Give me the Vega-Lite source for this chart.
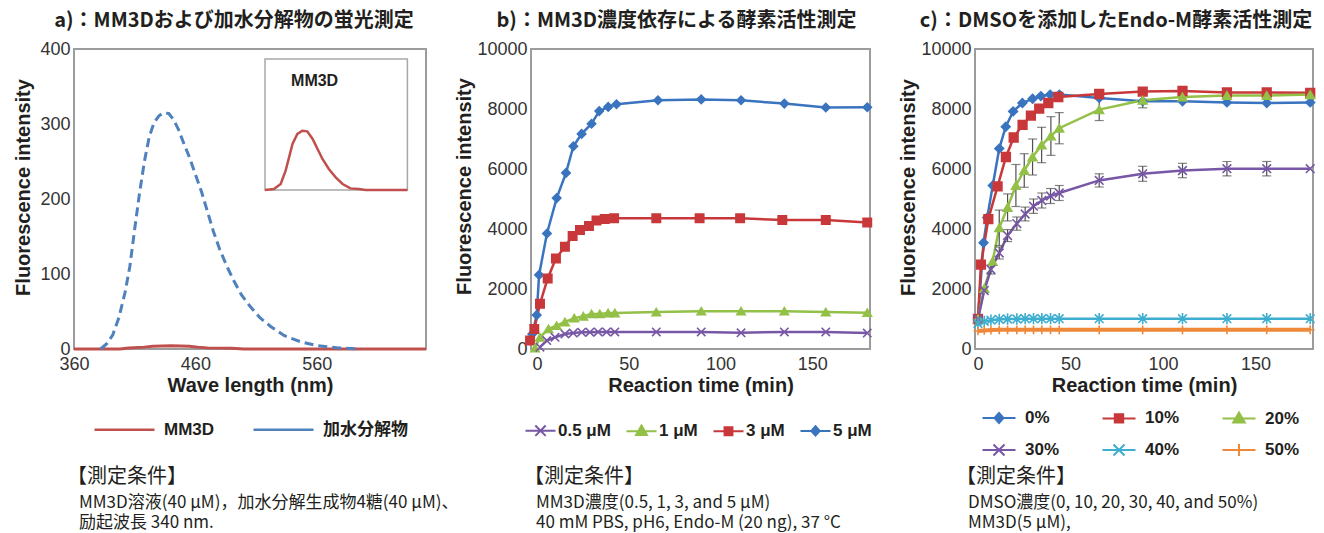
{
"$schema": "https://vega.github.io/schema/vega-lite/v6.json",
"padding": {"left": 12, "top": 10, "right": 2, "bottom": 0},
"datasets": {
"spectra": [
{"sample":"MM3D","wavelength":360,"intensity":0},{"sample":"MM3D","wavelength":398,"intensity":0},{"sample":"MM3D","wavelength":405,"intensity":1.3},{"sample":"MM3D","wavelength":418,"intensity":2.5},{"sample":"MM3D","wavelength":425,"intensity":3.8},{"sample":"MM3D","wavelength":440,"intensity":4.2},{"sample":"MM3D","wavelength":455,"intensity":3.8},{"sample":"MM3D","wavelength":462,"intensity":2.5},{"sample":"MM3D","wavelength":470,"intensity":1.5},{"sample":"MM3D","wavelength":490,"intensity":1},{"sample":"MM3D","wavelength":500,"intensity":0},{"sample":"MM3D","wavelength":650,"intensity":0},
{"sample":"加水分解物","wavelength":382,"intensity":0},{"sample":"加水分解物","wavelength":387,"intensity":7},{"sample":"加水分解物","wavelength":392,"intensity":19},{"sample":"加水分解物","wavelength":397,"intensity":42},{"sample":"加水分解物","wavelength":402,"intensity":75},{"sample":"加水分解物","wavelength":406,"intensity":110},{"sample":"加水分解物","wavelength":410,"intensity":160},{"sample":"加水分解物","wavelength":414,"intensity":208},{"sample":"加水分解物","wavelength":418,"intensity":250},{"sample":"加水分解物","wavelength":422,"intensity":283},{"sample":"加水分解物","wavelength":426,"intensity":302},{"sample":"加水分解物","wavelength":430,"intensity":311},{"sample":"加水分解物","wavelength":434,"intensity":315},{"sample":"加水分解物","wavelength":438,"intensity":314},{"sample":"加水分解物","wavelength":442,"intensity":306},{"sample":"加水分解物","wavelength":446,"intensity":293},{"sample":"加水分解物","wavelength":450,"intensity":276},{"sample":"加水分解物","wavelength":455,"intensity":256},{"sample":"加水分解物","wavelength":460,"intensity":233},{"sample":"加水分解物","wavelength":465,"intensity":210},{"sample":"加水分解物","wavelength":470,"intensity":183},{"sample":"加水分解物","wavelength":475,"intensity":156},{"sample":"加水分解物","wavelength":480,"intensity":133},{"sample":"加水分解物","wavelength":486,"intensity":110},{"sample":"加水分解物","wavelength":492,"intensity":90},{"sample":"加水分解物","wavelength":498,"intensity":72},{"sample":"加水分解物","wavelength":505,"intensity":57},{"sample":"加水分解物","wavelength":513,"intensity":42},{"sample":"加水分解物","wavelength":522,"intensity":30},{"sample":"加水分解物","wavelength":533,"intensity":18},{"sample":"加水分解物","wavelength":546,"intensity":10},{"sample":"加水分解物","wavelength":560,"intensity":4.5},{"sample":"加水分解物","wavelength":578,"intensity":1.5},{"sample":"加水分解物","wavelength":596,"intensity":0}
],
"inset_curve": [
{"wavelength":360,"intensity":0},{"wavelength":378,"intensity":0.06},{"wavelength":392,"intensity":0.37},{"wavelength":402,"intensity":1.19},{"wavelength":409,"intensity":2.01},{"wavelength":416,"intensity":2.83},{"wavelength":426,"intensity":3.45},{"wavelength":436,"intensity":3.65},{"wavelength":446,"intensity":3.61},{"wavelength":457,"intensity":3.14},{"wavelength":467,"intensity":2.52},{"wavelength":477,"intensity":1.91},{"wavelength":490,"intensity":1.29},{"wavelength":504,"intensity":0.78},{"wavelength":518,"intensity":0.37},{"wavelength":534,"intensity":0.1},{"wavelength":551,"intensity":0.06},{"wavelength":565,"intensity":0},{"wavelength":650,"intensity":0}
],
"inset_frame": [{"wl_min":360,"wl_max":650,"i_min":0,"i_max":8.06}],
"inset_label": [{"label":"MM3D","wavelength":461,"intensity":6.7}],
"conc": [
{"conc":"5 μM","t":-2.6,"v":500},{"conc":"5 μM","t":-0.2,"v":1130},{"conc":"5 μM","t":1.1,"v":2470},{"conc":"5 μM","t":5.4,"v":3850},{"conc":"5 μM","t":10.7,"v":5030},{"conc":"5 μM","t":15.8,"v":5870},{"conc":"5 μM","t":19.8,"v":6760},{"conc":"5 μM","t":24.3,"v":7170},{"conc":"5 μM","t":29.7,"v":7510},{"conc":"5 μM","t":33.9,"v":7930},{"conc":"5 μM","t":38.8,"v":8070},{"conc":"5 μM","t":43.3,"v":8160},{"conc":"5 μM","t":65.9,"v":8290},{"conc":"5 μM","t":89.5,"v":8320},{"conc":"5 μM","t":111.2,"v":8290},{"conc":"5 μM","t":134.8,"v":8180},{"conc":"5 μM","t":157.4,"v":8050},{"conc":"5 μM","t":180,"v":8060},
{"conc":"3 μM","t":-3.8,"v":280},{"conc":"3 μM","t":-1.5,"v":670},{"conc":"3 μM","t":1.6,"v":1510},{"conc":"3 μM","t":5.8,"v":2350},{"conc":"3 μM","t":10.3,"v":3020},{"conc":"3 μM","t":15.2,"v":3410},{"conc":"3 μM","t":19.4,"v":3770},{"conc":"3 μM","t":23.4,"v":3970},{"conc":"3 μM","t":28.3,"v":4100},{"conc":"3 μM","t":32.4,"v":4280},{"conc":"3 μM","t":36.9,"v":4330},{"conc":"3 μM","t":42,"v":4360},{"conc":"3 μM","t":65,"v":4360},{"conc":"3 μM","t":88.6,"v":4360},{"conc":"3 μM","t":110.7,"v":4360},{"conc":"3 μM","t":133.7,"v":4300},{"conc":"3 μM","t":157.4,"v":4300},{"conc":"3 μM","t":180,"v":4220},
{"conc":"1 μM","t":-1.1,"v":30},{"conc":"1 μM","t":1.6,"v":390},{"conc":"1 μM","t":6.2,"v":670},{"conc":"1 μM","t":10.7,"v":780},{"conc":"1 μM","t":15.2,"v":900},{"conc":"1 μM","t":20.3,"v":1030},{"conc":"1 μM","t":25.2,"v":1090},{"conc":"1 μM","t":29.7,"v":1170},{"conc":"1 μM","t":34.2,"v":1170},{"conc":"1 μM","t":38.7,"v":1200},{"conc":"1 μM","t":42.4,"v":1200},{"conc":"1 μM","t":65,"v":1230},{"conc":"1 μM","t":89.5,"v":1260},{"conc":"1 μM","t":111.2,"v":1260},{"conc":"1 μM","t":134.8,"v":1260},{"conc":"1 μM","t":157.4,"v":1230},{"conc":"1 μM","t":180,"v":1210},
{"conc":"0.5 μM","t":1.6,"v":60},{"conc":"0.5 μM","t":5.3,"v":280},{"conc":"0.5 μM","t":9.8,"v":390},{"conc":"0.5 μM","t":15.2,"v":500},{"conc":"0.5 μM","t":19.7,"v":530},{"conc":"0.5 μM","t":24.3,"v":560},{"conc":"0.5 μM","t":28.8,"v":560},{"conc":"0.5 μM","t":33.3,"v":570},{"conc":"0.5 μM","t":37.9,"v":570},{"conc":"0.5 μM","t":42.4,"v":570},{"conc":"0.5 μM","t":65,"v":570},{"conc":"0.5 μM","t":89.5,"v":570},{"conc":"0.5 μM","t":111.2,"v":540},{"conc":"0.5 μM","t":134.8,"v":570},{"conc":"0.5 μM","t":157.4,"v":570},{"conc":"0.5 μM","t":180,"v":530}
],
"dmso": [
{"dmso":"0%","t":0,"v":1000},{"dmso":"0%","t":3,"v":3540},{"dmso":"0%","t":5,"v":4380},{"dmso":"0%","t":8,"v":5450},{"dmso":"0%","t":11.5,"v":6680},{"dmso":"0%","t":15,"v":7410},{"dmso":"0%","t":19,"v":7920},{"dmso":"0%","t":24,"v":8200},{"dmso":"0%","t":29.5,"v":8340},{"dmso":"0%","t":34,"v":8430},{"dmso":"0%","t":39,"v":8480},{"dmso":"0%","t":44,"v":8480},{"dmso":"0%","t":65.5,"v":8370},{"dmso":"0%","t":89,"v":8260},{"dmso":"0%","t":110.5,"v":8260},{"dmso":"0%","t":134.5,"v":8220},{"dmso":"0%","t":156,"v":8200},{"dmso":"0%","t":179.5,"v":8220},
{"dmso":"10%","t":0,"v":1000},{"dmso":"10%","t":1.6,"v":2810},{"dmso":"10%","t":5.6,"v":4330},{"dmso":"10%","t":10.6,"v":5420},{"dmso":"10%","t":15.1,"v":6400},{"dmso":"10%","t":19.3,"v":7050},{"dmso":"10%","t":24.1,"v":7470},{"dmso":"10%","t":28.6,"v":7780},{"dmso":"10%","t":33.1,"v":8010},{"dmso":"10%","t":38,"v":8200},{"dmso":"10%","t":43.4,"v":8400},{"dmso":"10%","t":65.5,"v":8500},{"dmso":"10%","t":89,"v":8580},{"dmso":"10%","t":110.5,"v":8600},{"dmso":"10%","t":134.5,"v":8550},{"dmso":"10%","t":156,"v":8550},{"dmso":"10%","t":179.5,"v":8540},
{"dmso":"20%","t":0,"v":1000},{"dmso":"20%","t":3.4,"v":2020},{"dmso":"20%","t":7.9,"v":2920},{"dmso":"20%","t":11.5,"v":4040},{"dmso":"20%","t":16,"v":4720},{"dmso":"20%","t":20.5,"v":5450},{"dmso":"20%","t":25,"v":5950},{"dmso":"20%","t":29.5,"v":6400},{"dmso":"20%","t":34.4,"v":6800},{"dmso":"20%","t":39.4,"v":7100},{"dmso":"20%","t":43.9,"v":7360},{"dmso":"20%","t":65.5,"v":7980},{"dmso":"20%","t":89,"v":8290},{"dmso":"20%","t":110.5,"v":8400},{"dmso":"20%","t":134.5,"v":8450},{"dmso":"20%","t":156,"v":8450},{"dmso":"20%","t":179.5,"v":8480},
{"dmso":"30%","t":0,"v":1000},{"dmso":"30%","t":3.4,"v":1950},{"dmso":"30%","t":7,"v":2650},{"dmso":"30%","t":11.5,"v":3200},{"dmso":"30%","t":16,"v":3780},{"dmso":"30%","t":21,"v":4180},{"dmso":"30%","t":25.5,"v":4500},{"dmso":"30%","t":30,"v":4760},{"dmso":"30%","t":34.5,"v":4950},{"dmso":"30%","t":39.2,"v":5100},{"dmso":"30%","t":43.9,"v":5200},{"dmso":"30%","t":65.5,"v":5620},{"dmso":"30%","t":89,"v":5840},{"dmso":"30%","t":110.5,"v":5950},{"dmso":"30%","t":134.5,"v":6010},{"dmso":"30%","t":156,"v":6010},{"dmso":"30%","t":179.5,"v":6010},
{"dmso":"40%","t":0,"v":850},{"dmso":"40%","t":3.4,"v":920},{"dmso":"40%","t":7,"v":960},{"dmso":"40%","t":11.5,"v":990},{"dmso":"40%","t":16,"v":1000},{"dmso":"40%","t":21,"v":1000},{"dmso":"40%","t":25.5,"v":1010},{"dmso":"40%","t":30,"v":1010},{"dmso":"40%","t":34.5,"v":1010},{"dmso":"40%","t":39.2,"v":1010},{"dmso":"40%","t":43.9,"v":1010},{"dmso":"40%","t":65.5,"v":1010},{"dmso":"40%","t":89,"v":1010},{"dmso":"40%","t":110.5,"v":1010},{"dmso":"40%","t":134.5,"v":1010},{"dmso":"40%","t":156,"v":1010},{"dmso":"40%","t":179.5,"v":1010},
{"dmso":"50%","t":0,"v":600},{"dmso":"50%","t":3.4,"v":620},{"dmso":"50%","t":7,"v":630},{"dmso":"50%","t":11.5,"v":640},{"dmso":"50%","t":16,"v":640},{"dmso":"50%","t":21,"v":640},{"dmso":"50%","t":25.5,"v":640},{"dmso":"50%","t":30,"v":640},{"dmso":"50%","t":34.5,"v":640},{"dmso":"50%","t":39.2,"v":640},{"dmso":"50%","t":43.9,"v":640},{"dmso":"50%","t":65.5,"v":640},{"dmso":"50%","t":89,"v":640},{"dmso":"50%","t":110.5,"v":640},{"dmso":"50%","t":134.5,"v":640},{"dmso":"50%","t":156,"v":640},{"dmso":"50%","t":179.5,"v":640}
],
"dmso_err": [
{"dmso":"20%","t":11.5,"lo":3450,"hi":4630},{"dmso":"20%","t":16,"lo":4270,"hi":5170},{"dmso":"20%","t":20.5,"lo":4750,"hi":6150},{"dmso":"20%","t":25,"lo":5390,"hi":6510},{"dmso":"20%","t":29.5,"lo":5800,"hi":7000},{"dmso":"20%","t":34.4,"lo":6210,"hi":7390},{"dmso":"20%","t":39.4,"lo":6455,"hi":7745},{"dmso":"20%","t":43.9,"lo":6840,"hi":7880},{"dmso":"20%","t":65.5,"lo":7615,"hi":8345},{"dmso":"20%","t":89,"lo":8040,"hi":8540},{"dmso":"20%","t":110.5,"lo":8280,"hi":8520},{"dmso":"20%","t":134.5,"lo":8350,"hi":8550},{"dmso":"20%","t":156,"lo":8350,"hi":8550},
{"dmso":"30%","t":7,"lo":2500,"hi":2800},{"dmso":"30%","t":11.5,"lo":3000,"hi":3400},{"dmso":"30%","t":16,"lo":3580,"hi":3980},{"dmso":"30%","t":21,"lo":3960,"hi":4400},{"dmso":"30%","t":25.5,"lo":4270,"hi":4730},{"dmso":"30%","t":30,"lo":4520,"hi":5000},{"dmso":"30%","t":34.5,"lo":4700,"hi":5200},{"dmso":"30%","t":39.2,"lo":4850,"hi":5350},{"dmso":"30%","t":43.9,"lo":4950,"hi":5450},{"dmso":"30%","t":65.5,"lo":5400,"hi":5840},{"dmso":"30%","t":89,"lo":5590,"hi":6090},{"dmso":"30%","t":110.5,"lo":5710,"hi":6190},{"dmso":"30%","t":134.5,"lo":5770,"hi":6250},{"dmso":"30%","t":156,"lo":5770,"hi":6250},
{"dmso":"10%","t":89,"lo":8480,"hi":8680},{"dmso":"10%","t":110.5,"lo":8500,"hi":8700},{"dmso":"10%","t":134.5,"lo":8450,"hi":8650},{"dmso":"10%","t":156,"lo":8450,"hi":8650}
],
"note": [{"t": ""}]
},
"vconcat": [
{
"hconcat": [
{
"width": 352, "height": 300,
"title": {"text": "a)：MM3Dおよび加水分解物の蛍光測定", "anchor": "middle", "frame": "group", "dx": -16, "offset": 9},
"layer": [
{
"layer": [
{
"data": {"name": "spectra"},
"transform": [{"filter": "datum.sample === 'MM3D'"}],
"mark": {"type": "line", "strokeWidth": 3},
"encoding": {
"x": {"field": "wavelength", "type": "quantitative", "scale": {"domain": [360, 650], "nice": false, "zero": false}, "axis": {"title": "Wave length (nm)", "values": [360, 460, 560]}},
"y": {"field": "intensity", "type": "quantitative", "scale": {"domain": [0, 400], "nice": false}, "axis": {"title": "Fluorescence intensity", "values": [0, 100, 200, 300, 400], "titleY": 138, "titlePadding": 6}},
"color": {"field": "sample", "type": "nominal", "scale": {"domain": ["MM3D", "加水分解物"], "range": ["#C0504D", "#4F81BD"]}, "legend": {"title": null, "orient": "bottom", "direction": "horizontal", "symbolType": "stroke", "symbolSize": 3600, "symbolStrokeWidth": 2.5, "labelOffset": 8, "columnPadding": 33, "offset": 3}}
}
},
{
"data": {"name": "spectra"},
"transform": [{"filter": "datum.sample === '加水分解物'"}],
"mark": {"type": "line", "strokeWidth": 3, "strokeDash": [9, 5]},
"encoding": {
"x": {"field": "wavelength", "type": "quantitative", "scale": {"domain": [360, 650], "nice": false, "zero": false}, "axis": {"title": "Wave length (nm)", "values": [360, 460, 560]}},
"y": {"field": "intensity", "type": "quantitative", "scale": {"domain": [0, 400], "nice": false}, "axis": {"title": "Fluorescence intensity", "values": [0, 100, 200, 300, 400], "titleY": 138, "titlePadding": 6}},
"color": {"field": "sample", "type": "nominal", "scale": {"domain": ["MM3D", "加水分解物"], "range": ["#C0504D", "#4F81BD"]}}
}
}
]
},
{
"layer": [
{
"data": {"name": "inset_frame"},
"mark": {"type": "rect", "fill": "#ffffff", "stroke": "#a8a8a8", "strokeWidth": 1.5},
"encoding": {
"x": {"field": "wl_min", "type": "quantitative", "scale": {"domain": [-28.98, 687.88], "nice": false, "zero": false}, "axis": null},
"x2": {"field": "wl_max"},
"y": {"field": "i_min", "type": "quantitative", "scale": {"domain": [-9.785, 8.677], "nice": false, "zero": false}, "axis": null},
"y2": {"field": "i_max"}
}
},
{
"data": {"name": "inset_curve"},
"mark": {"type": "line", "color": "#C0504D", "strokeWidth": 2.5},
"encoding": {
"x": {"field": "wavelength", "type": "quantitative", "scale": {"domain": [-28.98, 687.88], "nice": false, "zero": false}, "axis": null},
"y": {"field": "intensity", "type": "quantitative", "scale": {"domain": [-9.785, 8.677], "nice": false, "zero": false}, "axis": null}
}
},
{
"data": {"name": "inset_label"},
"mark": {"type": "text", "font": "Liberation Sans", "fontSize": 16, "fontWeight": "bold", "color": "#231F20"},
"encoding": {
"x": {"field": "wavelength", "type": "quantitative", "scale": {"domain": [-28.98, 687.88], "nice": false, "zero": false}, "axis": null},
"y": {"field": "intensity", "type": "quantitative", "scale": {"domain": [-9.785, 8.677], "nice": false, "zero": false}, "axis": null},
"text": {"field": "label"}
}
}
]
}
],
"resolve": {"scale": {"x": "independent", "y": "independent"}}
},
{
"width": 339, "height": 300,
"title": {"text": "b)：MM3D濃度依存による酵素活性測定", "anchor": "middle", "frame": "group", "dx": -24, "offset": 9},
"data": {"name": "conc"},
"encoding": {
"x": {"field": "t", "type": "quantitative", "scale": {"domain": [-3.3, 181.5], "nice": false, "zero": false}, "axis": {"title": "Reaction time (min)", "values": [0, 50, 100, 150]}},
"y": {"field": "v", "type": "quantitative", "scale": {"domain": [0, 10000], "nice": false}, "axis": {"title": "Fluorescence intensity", "format": "d", "values": [0, 2000, 4000, 6000, 8000, 10000], "titleY": 137, "titlePadding": 2}}
},
"layer": [
{
"mark": {"type": "line", "strokeWidth": 2.5},
"encoding": {
"stroke": {"field": "conc", "type": "nominal", "scale": {"domain": ["0.5 μM", "1 μM", "3 μM", "5 μM"], "range": ["#7757A6", "#93C047", "#C8383A", "#3A74BF"]}}
}
},
{
"mark": {"type": "point", "filled": true, "opacity": 1, "strokeWidth": 1.6, "size": 70},
"encoding": {
"stroke": {"field": "conc", "type": "nominal", "scale": {"domain": ["0.5 μM", "1 μM", "3 μM", "5 μM"], "range": ["#7757A6", "#93C047", "#C8383A", "#3A74BF"]}},
"fill": {"field": "conc", "type": "nominal", "scale": {"domain": ["0.5 μM", "1 μM", "3 μM", "5 μM"], "range": ["#7757A6", "#93C047", "#C8383A", "#3A74BF"]},
"legend": {"title": null, "orient": "bottom", "direction": "horizontal", "offset": 25, "symbolSize": 353, "symbolStrokeWidth": 2, "labelOffset": 7, "columnPadding": 11,
"symbolType": {"expr": "datum.value==='0.5 μM'?'M-1.6,0H1.6M-0.55,-0.55L0.55,0.55M-0.55,0.55L0.55,-0.55':datum.value==='1 μM'?'M-1.6,0H1.6M0,-0.6L0.58,0.4L-0.58,0.4Z':datum.value==='3 μM'?'M-1.6,0H1.6M-0.42,-0.42H0.42V0.42H-0.42Z':'M-1.6,0H1.6M0,-0.5L0.45,0L0,0.5L-0.45,0Z'"}}},
"shape": {"field": "conc", "type": "nominal", "scale": {"domain": ["5 μM", "3 μM", "1 μM", "0.5 μM"], "range": ["diamond", "square", "triangle-up", "M-1,-1L1,1M-1,1L1,-1"]}, "legend": null}
}
}
]
},
{
"width": 338, "height": 300,
"title": {"text": "c)：DMSOを添加したEndo-M酵素活性測定", "anchor": "middle", "frame": "group", "dx": -28, "offset": 9},
"encoding": {
"x": {"field": "t", "type": "quantitative", "scale": {"domain": [-1.6, 181], "nice": false, "zero": false}, "axis": {"title": "Reaction time (min)", "values": [0, 50, 100, 150]}}
},
"layer": [
{
"data": {"name": "dmso"},
"mark": {"type": "line", "strokeWidth": 2.5},
"encoding": {
"y": {"field": "v", "type": "quantitative", "scale": {"domain": [0, 10000], "nice": false}, "axis": {"title": "Fluorescence intensity", "format": "d", "values": [0, 2000, 4000, 6000, 8000, 10000], "titleY": 138, "titlePadding": 2}},
"stroke": {"field": "dmso", "type": "nominal", "scale": {"domain": ["0%", "10%", "20%", "30%", "40%", "50%"], "range": ["#3A74BF", "#C8383A", "#93C047", "#7757A6", "#3DAED0", "#F0883A"]}}
}
},
{
"data": {"name": "dmso"},
"transform": [{"filter": "datum.dmso === '50%'"}],
"mark": {"type": "line", "strokeWidth": 4},
"encoding": {
"y": {"field": "v", "type": "quantitative", "scale": {"domain": [0, 10000], "nice": false}, "axis": {"title": "Fluorescence intensity", "format": "d", "values": [0, 2000, 4000, 6000, 8000, 10000], "titleY": 138, "titlePadding": 2}},
"stroke": {"field": "dmso", "type": "nominal", "scale": {"domain": ["0%", "10%", "20%", "30%", "40%", "50%"], "range": ["#3A74BF", "#C8383A", "#93C047", "#7757A6", "#3DAED0", "#F0883A"]}}
}
},
{
"data": {"name": "dmso_err"},
"mark": {"type": "errorbar", "ticks": {"size": 9}, "color": "#505050", "thickness": 1.2},
"encoding": {
"y": {"field": "lo", "type": "quantitative", "scale": {"domain": [0, 10000], "nice": false}, "axis": {"title": "Fluorescence intensity", "format": "d", "values": [0, 2000, 4000, 6000, 8000, 10000], "titleY": 138, "titlePadding": 2}},
"y2": {"field": "hi"}
}
},
{
"data": {"name": "dmso"},
"mark": {"type": "point", "filled": true, "opacity": 1, "strokeWidth": 1.6, "size": 75},
"encoding": {
"y": {"field": "v", "type": "quantitative", "scale": {"domain": [0, 10000], "nice": false}, "axis": {"title": "Fluorescence intensity", "format": "d", "values": [0, 2000, 4000, 6000, 8000, 10000], "titleY": 138, "titlePadding": 2}},
"stroke": {"field": "dmso", "type": "nominal", "scale": {"domain": ["0%", "10%", "20%", "30%", "40%", "50%"], "range": ["#3A74BF", "#C8383A", "#93C047", "#7757A6", "#3DAED0", "#F0883A"]}},
"fill": {"field": "dmso", "type": "nominal", "scale": {"domain": ["0%", "10%", "20%", "30%", "40%", "50%"], "range": ["#3A74BF", "#C8383A", "#93C047", "#7757A6", "#3DAED0", "#F0883A"]},
"legend": {"title": null, "orient": "bottom", "direction": "horizontal", "columns": 3, "offset": 12, "symbolSize": 400, "symbolStrokeWidth": 2, "labelOffset": 15, "columnPadding": 38, "rowPadding": 12,
"labelExpr": "datum.label==='0%'?'\u00a0\u00a00%':datum.label",
"symbolType": {"expr": "datum.value==='0%'?'M-1.65,0H1.65M0,-0.5L0.45,0L0,0.5L-0.45,0Z':datum.value==='10%'?'M-1.65,0H1.65M-0.42,-0.42H0.42V0.42H-0.42Z':datum.value==='20%'?'M-1.65,0H1.65M0,-0.6L0.58,0.4L-0.58,0.4Z':datum.value==='50%'?'M-1.65,0H1.65M0,-0.6L0,0.6':'M-1.65,0H1.65M-0.55,-0.55L0.55,0.55M-0.55,0.55L0.55,-0.55'"}}},
"shape": {"field": "dmso", "type": "nominal", "scale": {"domain": ["50%", "40%", "30%", "20%", "10%", "0%"], "range": ["M-1,0L1,0M0,-1L0,1", "M-1,-1L1,1M-1,1L1,-1M0,-1.3L0,1.3", "M-1,-1L1,1M-1,1L1,-1", "triangle-up", "square", "diamond"]}, "legend": null}
}
}
]
}
],
"spacing": 105,
"bounds": "flush",
"resolve": {"scale": {"color": "independent", "stroke": "independent", "fill": "independent", "shape": "independent"}}
},
{
"hconcat": [
{
"width": 352, "height": 1, "view": {"stroke": null},
"data": {"name": "note"}, "mark": {"type": "text"}, "encoding": {"text": {"field": "t"}},
"title": {"text": "【測定条件】", "fontWeight": "normal", "subtitle": ["\u2800MM3D溶液(40 μM)，加水分解生成物4糖(40 μM)、", "\u2800励起波長 340 nm."], "anchor": "start", "frame": "group", "dx": -7, "offset": 0}
},
{
"width": 339, "height": 1, "view": {"stroke": null},
"data": {"name": "note"}, "mark": {"type": "text"}, "encoding": {"text": {"field": "t"}},
"title": {"text": "【測定条件】", "fontWeight": "normal", "subtitle": ["\u2800MM3D濃度(0.5, 1, 3, and 5 μM)", "\u280040 mM PBS, pH6, Endo-M (20 ng), 37 °C"], "anchor": "start", "frame": "group", "dx": -7, "offset": 0}
},
{
"width": 338, "height": 1, "view": {"stroke": null},
"data": {"name": "note"}, "mark": {"type": "text"}, "encoding": {"text": {"field": "t"}},
"title": {"text": "【測定条件】", "fontWeight": "normal", "subtitle": ["\u2800DMSO濃度(0, 10, 20, 30, 40, and 50%)", "\u2800MM3D(5 μM),"], "anchor": "start", "frame": "group", "dx": -19, "offset": 0}
}
],
"spacing": 105,
"bounds": "flush"
}
],
"spacing": 5,
"config": {
"font": "Liberation Sans",
"view": {"stroke": "#9c9c9c", "strokeWidth": 2},
"axis": {"domain": false, "ticks": false, "grid": false, "labelFont": "Liberation Sans", "labelFontSize": 18, "labelColor": "#333333", "titleFont": "Liberation Sans", "titleFontSize": 20, "titleFontWeight": "bold", "titleColor": "#231F20", "labelFlush": false, "labelOverlap": false},
"axisX": {"labelPadding": 6, "titlePadding": 2},
"axisY": {"labelPadding": 4},
"legend": {"labelFont": "Liberation Sans, Noto Sans CJK JP", "labelFontSize": 17, "labelFontWeight": "bold", "labelColor": "#231F20", "layout": {"bottom": {"anchor": "middle"}}},
"title": {"font": "Noto Sans CJK JP", "fontSize": 20, "fontWeight": "bold", "color": "#231F20", "subtitleFont": "Noto Sans CJK JP", "subtitleFontSize": 17, "subtitleColor": "#231F20", "subtitlePadding": 8, "subtitleLineHeight": 20}
}
}
